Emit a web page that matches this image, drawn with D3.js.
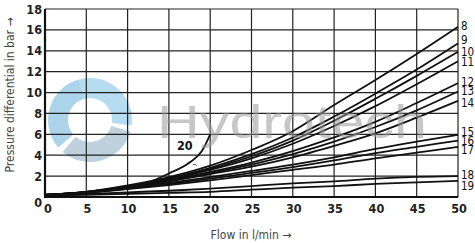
<!DOCTYPE html>
<html><head><meta charset="utf-8">
<script src="https://cdn.jsdelivr.net/npm/d3@7"></script>
<style>
html,body{margin:0;padding:0;background:#fff;}
svg{display:block;}
</style></head>
<body>
<svg id="chart" width="475" height="243"></svg>
<script>
const flowTicks = [0,5,10,15,20,25,30,35,40,45,50];
const pressureTicks = [0,2,4,6,8,10,12,14,16,18];
const flowPts = [0,5,10,15,20,25,30,35,40,45,50];
const curveNames = ["8","9","10","11","12","13","14","15","16","17","18","19"];
const c8  = [0.2,0.5,1.1,1.9,3.0,4.5,6.3,8.8,11.2,13.7,16.3];
const c9  = [0.2,0.5,1.05,1.8,2.8,4.1,5.7,7.7,9.9,12.2,14.7];
const c10 = [0.2,0.5,1.0,1.75,2.7,3.9,5.4,7.3,9.4,11.6,13.9];
const c11 = [0.2,0.48,0.98,1.7,2.6,3.7,5.1,6.8,8.7,10.8,13.0];
const c12 = [0.2,0.46,0.95,1.6,2.4,3.3,4.4,5.7,7.2,9.0,10.9];
const c13 = [0.2,0.45,0.92,1.55,2.3,3.1,4.1,5.3,6.7,8.3,10.1];
const c14 = [0.2,0.44,0.9,1.5,2.2,2.9,3.8,4.9,6.1,7.6,9.2];
const c15 = [0.2,0.45,0.85,1.35,1.9,2.5,3.1,3.8,4.6,5.3,5.95];
const c16 = [0.2,0.42,0.8,1.25,1.75,2.3,2.85,3.5,4.2,4.8,5.4];
const c17 = [0.2,0.4,0.75,1.15,1.6,2.1,2.6,3.1,3.7,4.25,4.8];
const c18 = [0.2,0.3,0.45,0.6,0.8,1.05,1.3,1.5,1.75,1.92,2.0];
const c19 = [0.15,0.2,0.3,0.4,0.5,0.7,0.9,1.05,1.25,1.4,1.55];
const curve20Flow = [0,5,10,12.5,15,17.5,19,20];
const curve20 = [0.2,0.4,0.95,1.4,2.25,3.3,4.4,6.0];
const labelY = [16.4,15.0,13.9,12.95,11.0,10.15,9.0,6.2,5.35,4.5,2.1,1.05];

const series = [c8,c9,c10,c11,c12,c13,c14,c15,c16,c17,c18,c19];

const svg = d3.select("#chart");
const x = d3.scaleLinear().domain([0,50]).range([45,458]);
const y = d3.scaleLinear().domain([0,18]).range([197,9]);

const tickFont = "'Liberation Sans Narrow','DejaVu Sans Condensed',sans-serif";

// watermark logo (behind)
const arc = d3.arc().innerRadius(22).outerRadius(42);
const segs = [[-0.3,1.7,"#a9d6ee"],[1.85,3.85,"#b3c9d8"],[4.0,6.0,"#9dcde8"]];
const lg = svg.append("g").attr("transform","translate(90,120)").attr("opacity",0.85);
segs.forEach(s=>{
  lg.append("path").attr("d",arc({startAngle:s[0],endAngle:s[1]})).attr("fill",s[2]);
});

// grid
const g = svg.append("g");
g.selectAll(".vg").data(flowTicks.slice(1)).enter().append("line")
  .attr("x1",d=>x(d)).attr("x2",d=>x(d)).attr("y1",y(0)).attr("y2",y(18))
  .attr("stroke","#222").attr("stroke-width",1.2);
g.selectAll(".hg").data(pressureTicks.slice(1)).enter().append("line")
  .attr("x1",x(0)).attr("x2",x(50)).attr("y1",d=>y(d)).attr("y2",d=>y(d))
  .attr("stroke","#222").attr("stroke-width",1.2);
g.append("line").attr("x1",x(0)).attr("x2",x(0)).attr("y1",y(0)+1).attr("y2",y(18)).attr("stroke","#111").attr("stroke-width",2.2);
g.append("line").attr("x1",x(0)-1).attr("x2",x(50)).attr("y1",y(0)).attr("y2",y(0)).attr("stroke","#111").attr("stroke-width",2.2);

// tick labels
svg.selectAll(".yl").data(pressureTicks).enter().append("text")
  .attr("x",42).attr("y",d=> d===0 ? y(0)+10 : y(d)+4.5)
  .attr("text-anchor","end").attr("font-family",tickFont).attr("font-weight","bold")
  .attr("font-size",12.5).attr("fill","#222").text(d=>d);
svg.selectAll(".xl").data(flowTicks).enter().append("text")
  .attr("x",d=> d===0 ? x(d)+3 : x(d)+1).attr("y",213)
  .attr("text-anchor","middle").attr("font-family",tickFont).attr("font-weight","bold")
  .attr("font-size",12.5).attr("fill","#222").text(d=>d);

// axis titles
svg.append("text").attr("transform","translate(14,95) rotate(-90)")
  .attr("text-anchor","middle").attr("font-family",tickFont)
  .attr("font-size",12).attr("fill","#444").text("Pressure differential in bar \u2192");
svg.append("text").attr("x",251).attr("y",239)
  .attr("text-anchor","middle").attr("font-family",tickFont)
  .attr("font-size",12).attr("fill","#444").text("Flow in l/min \u2192");

// curves
const line = d3.line().x(d=>x(d[0])).y(d=>y(d[1])).curve(d3.curveMonotoneX);
series.forEach(s=>{
  svg.append("path").attr("d",line(flowPts.map((f,i)=>[f,s[i]])))
    .attr("fill","none").attr("stroke","#111").attr("stroke-width",1.8);
});
svg.append("path").attr("d",line(curve20Flow.map((f,i)=>[f,curve20[i]])))
  .attr("fill","none").attr("stroke","#111").attr("stroke-width",1.8);

// curve labels
svg.selectAll(".cl").data(curveNames).enter().append("text")
  .attr("x",461).attr("y",(d,i)=>y(labelY[i])+4)
  .attr("font-family",tickFont).attr("font-size",11.5).attr("fill","#111").text(d=>d);
svg.append("text").attr("x",177).attr("y",150).attr("font-family",tickFont)
  .attr("font-weight","bold").attr("font-size",12.5).attr("fill","#111").text("20");
svg.append("path").attr("d",`M${x(17.9)},${y(3.1)} q2,-1 4,1`).attr("fill","none").attr("stroke","#333").attr("stroke-width",0.8);

// watermark text (semi-transparent, on top)
svg.append("text").attr("x",157).attr("y",138).attr("font-family","'Liberation Sans',Arial,sans-serif")
  .attr("font-size",46).attr("fill","#9a9a9a").attr("opacity",0.55).attr("textLength",270)
  .attr("lengthAdjust","spacingAndGlyphs").text("Hydrotech");
</script>
</body></html>
